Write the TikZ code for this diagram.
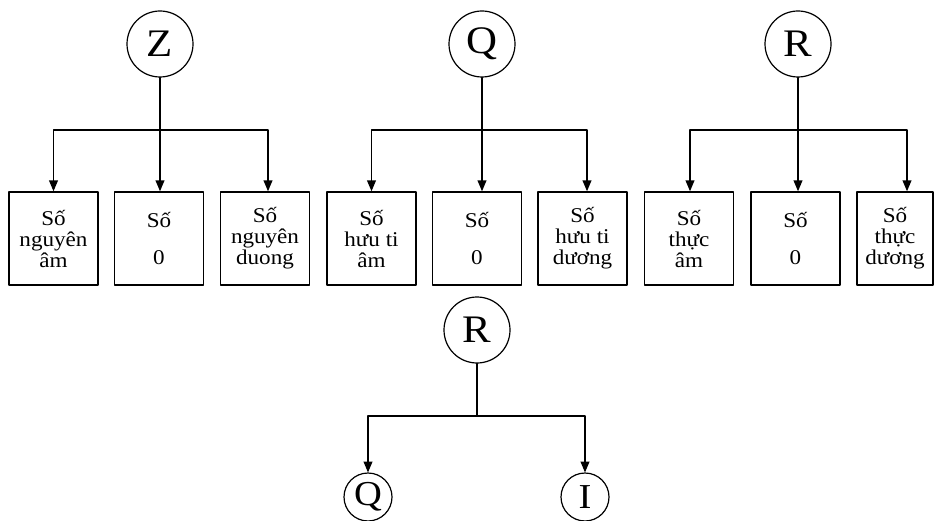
\documentclass[tikz,border=0pt]{standalone}
\usepackage{fontspec}
\setmainfont{Liberation Serif}[FakeStretch=1.1]
\usetikzlibrary{arrows}

\begin{document}
\begin{tikzpicture}[line cap=round,line join=round,>=triangle 45,x=1pt,y=-1pt,
		hop/.style={draw,line width=1.6pt,minimum width=89pt,minimum height=93pt,
			inner sep=0pt,align=center,font=\fontsize{21}{21}\selectfont},
		tap/.style={draw,circle,line width=1.2pt,minimum size=66pt,inner sep=0pt,
			font=\fontsize{39}{39}\selectfont},
		tapnho/.style={tap,minimum size=48pt,font=\fontsize{35}{35}\selectfont},
		noi/.style={line width=1.5pt}]
		\useasboundingbox (0,0) rectangle (936,521);
		% cay Z
		\node[tap] (Z) at (160,44) {Z};
		\node[hop] (Zam) at (53.5,238.5) {Số\\nguyên\\âm};
		\node[hop] (Zkhong) at (159,238.5) {Số\\[16pt]0};
		\node[hop] (Zduong) at (265,238.5) {Số\\nguyên\\duong};
		\coordinate (Zg) at (160,130);
		\draw[noi,->] (Z.south) -- ([xshift=1pt]Zkhong.north);
		\draw[noi,->] (Zg) -| (Zam.north);
		\draw[noi,->] (Zg) -| ([xshift=3pt]Zduong.north);
		% cay Q
		\node[tap] (Q) at (482,44) {Q};
		\node[hop] (Qam) at (371.5,238.5) {Số\\hưu ti\\âm};
		\node[hop] (Qkhong) at (477,238.5) {Số\\[16pt]0};
		\node[hop] (Qduong) at (582.5,238.5) {Số\\hưu ti\\dương};
		\coordinate (Qg) at (482,130);
		\draw[noi,->] (Q.south) -- ([xshift=5pt]Qkhong.north);
		\draw[noi,->] (Qg) -| (Qam.north);
		\draw[noi,->] (Qg) -| ([xshift=4.5pt]Qduong.north);
		% cay R
		\node[tap] (R) at (798,44) {R};
		\node[hop] (Ram) at (689,238.5) {Số\\thực\\âm};
		\node[hop] (Rkhong) at (795.5,238.5) {Số\\[16pt]0};
		\node[hop,minimum width=76pt] (Rduong) at (895,238.5) {Số\\thực\\dương};
		\coordinate (Rg) at (798,130);
		\draw[noi,->] (R.south) -- ([xshift=2.5pt]Rkhong.north);
		\draw[noi,->] (Rg) -| ([xshift=1pt]Ram.north);
		\draw[noi,->] (Rg) -| ([xshift=12pt]Rduong.north);
		% R = Q va I
		\node[tap] (Rd) at (477,330) {R};
		\node[tapnho] (Qd) at (368,497) {Q};
		\node[tapnho] (Id) at (585,497) {I};
		\coordinate (Rdg) at (477,416);
		\draw[noi] (Rd.south) -- (Rdg);
		\draw[noi,->] (Rdg) -| (Qd.north);
		\draw[noi,->] (Rdg) -| (Id.north);
\end{tikzpicture}
\end{document}
